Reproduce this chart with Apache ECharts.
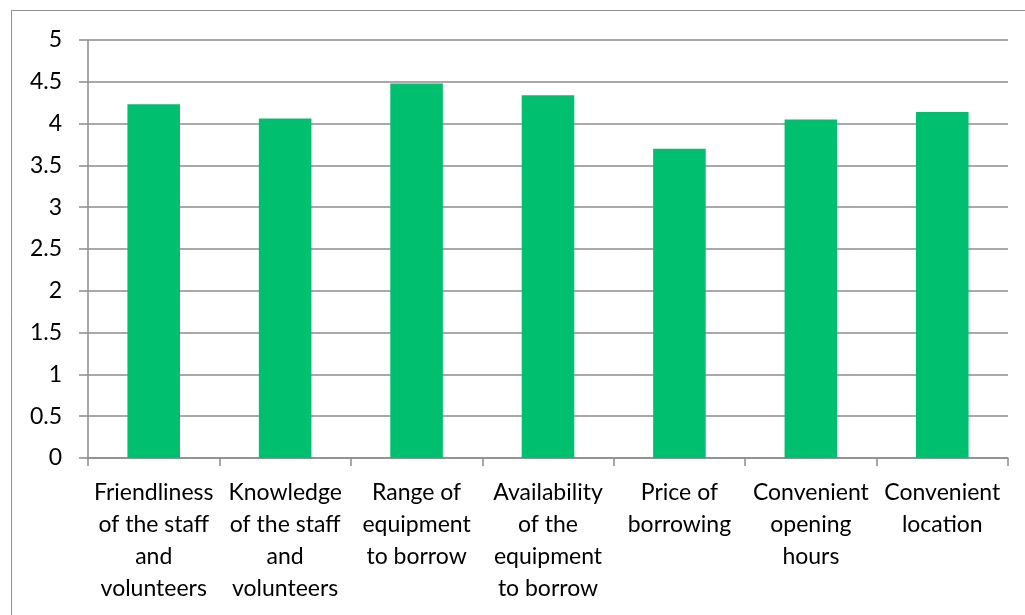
<html>
<head>
    <meta charset="utf-8">
    <title>Chart</title>
    <script src="https://cdn.jsdelivr.net/npm/echarts@6/dist/echarts.min.js"></script>
    <style>
        html, body { margin: 0; padding: 0; width: 1025px; height: 615px; background: #fff; }
    </style>
</head>
<body>
    <div id="main" style="width: 1025px; height: 615px;"></div>
    <script type="text/javascript">
        // chart data
        var categories = [
            'Friendliness\nof the staff\nand\nvolunteers',
            'Knowledge\nof the staff\nand\nvolunteers',
            'Range of\nequipment\nto borrow',
            'Availability\nof the\nequipment\nto borrow',
            'Price of\nborrowing',
            'Convenient\nopening\nhours',
            'Convenient\nlocation'
        ];
        var scores = [4.23, 4.06, 4.48, 4.34, 3.70, 4.05, 4.14];
        var yMin = 0, yMax = 5, yStep = 0.5;

        var myChart = echarts.init(document.getElementById('main'));
        var axisGray = '#8c8c8c';
        var font = 'Lato, "Open Sans", sans-serif';

        var option = {
            animation: false,
            graphic: [{
                type: 'rect',
                shape: { x: 11.5, y: 10.5, width: 1030, height: 620 },
                style: { fill: 'none', stroke: '#8f8f8f', lineWidth: 1 }
            }],
            grid: {
                left: 88,
                right: 17,
                top: 40,
                bottom: 157
            },
            xAxis: {
                type: 'category',
                data: categories,
                axisLine: { lineStyle: { color: axisGray, width: 1.5 } },
                axisTick: { show: true, length: 8, lineStyle: { color: axisGray, width: 1.5 } },
                axisLabel: {
                    interval: 0,
                    margin: 19,
                    color: '#000',
                    fontFamily: font,
                    fontSize: 23,
                    lineHeight: 32
                }
            },
            yAxis: {
                type: 'value',
                min: yMin,
                max: yMax,
                interval: yStep,
                axisLine: { show: true, lineStyle: { color: axisGray, width: 1.5 } },
                axisTick: { show: true, length: 9, lineStyle: { color: axisGray, width: 1.5 } },
                splitLine: { lineStyle: { color: axisGray, width: 1.5 } },
                axisLabel: {
                    margin: 26,
                    color: '#000',
                    fontFamily: font,
                    fontSize: 23
                }
            },
            series: [{
                type: 'bar',
                data: scores,
                barWidth: '40%',
                itemStyle: { color: '#00bf6f' }
            }]
        };
        myChart.setOption(option);
    </script>
</body>
</html>
